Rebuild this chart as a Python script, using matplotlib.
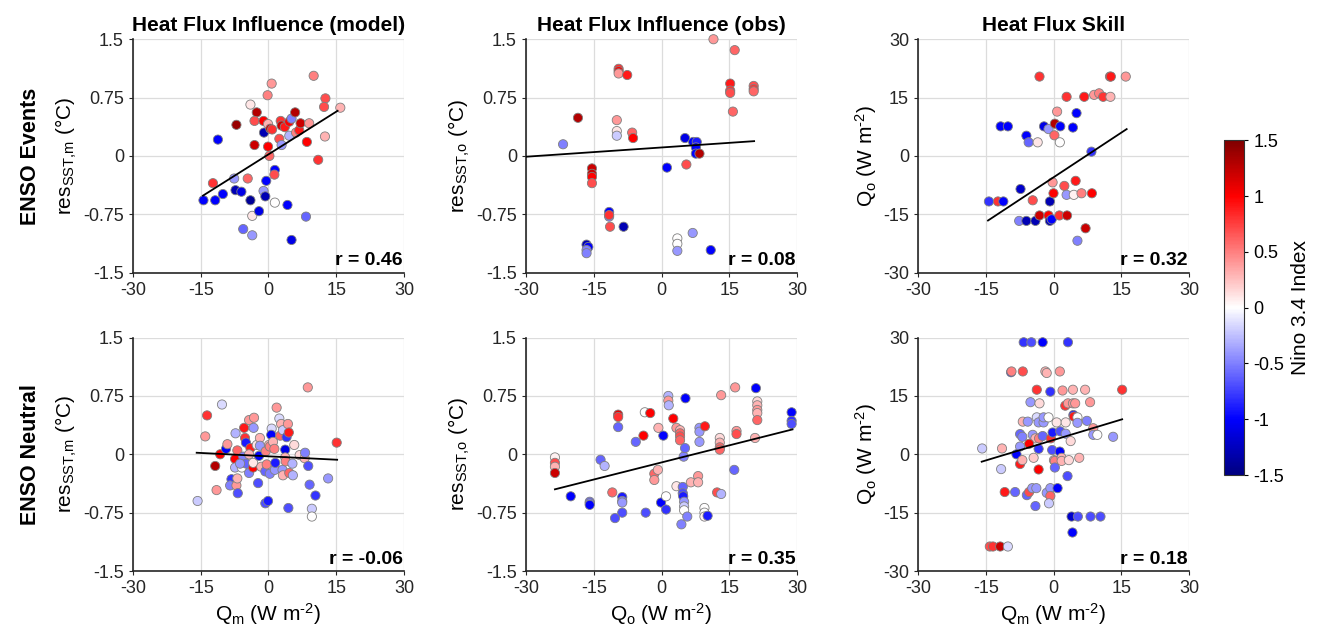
import numpy as np
import matplotlib
matplotlib.use('Agg')
import matplotlib.pyplot as plt
from matplotlib.colors import LinearSegmentedColormap, Normalize
from matplotlib.cm import ScalarMappable

# ENSO events, model: Q_m vs res_SST,m
p1_x = [-14.4, -11.8, -10.1, -12.3, -11.2, -7.1, -7.6, -7.3, -6.0, -5.6,
        -3.6, -3.6, -4.0, -4.6, -4.0, -2.6, -3.1, -3.1, -2.1, -1.1,
        -0.7, -0.5, -1.1, -1.0, -0.2, 0.7, -0.1, 0.4, 0.8, -0.1,
        0.2, 1.4, 1.3, 1.4, 2.4, 2.9, 2.7, 2.9, 3.6, 4.6,
        5.1, 4.6, 4.2, 5.1, 5.9, 6.1, 6.8, 7.1, 9.0, 8.5,
        8.3, 11.0, 10.0, 12.6, 12.3, 12.5, 15.9]
p1_y = [-0.57, -0.57, -0.49, -0.35, 0.21, 0.40, -0.29, -0.44, -0.46, -0.94,
        -1.02, -0.77, -0.57, -0.29, 0.66, 0.56, 0.45, 0.14, -0.71, -0.45,
        -0.52, -0.32, 0.45, 0.30, 0.78, 0.93, 0.41, 0.35, 0.34, 0.12,
        0.00, -0.18, -0.24, -0.60, 0.22, 0.14, 0.45, 0.39, 0.37, 0.44,
        0.48, 0.26, -0.63, -1.08, 0.56, 0.30, 0.33, 0.42, 0.42, 0.18,
        -0.78, -0.05, 1.03, 0.74, 0.63, 0.25, 0.62]
p1_c = [-1.0, -1.0, -1.0, 0.8, -1.0, 1.4, -0.4, -1.3, -1.1, -0.6,
        -0.4, 0.1, -1.4, 0.6, 0.1, 1.3, 0.7, 1.2, -1.1, -0.4,
        -1.3, -1.0, 1.0, -1.3, 0.5, 0.4, 0.3, 1.2, 0.8, 1.0,
        0.6, -1.0, 0.7, 0.0, 0.7, -0.4, 0.8, 1.2, 0.9, 1.0,
        -0.5, -0.3, -1.0, -1.1, 1.3, 0.5, 0.9, 1.2, 0.4, 1.0,
        -0.6, 0.8, 0.5, 0.7, 0.7, 0.3, 0.3]

# ENSO events, obs: Q_o vs res_SST,o
p2_x = [-21.8, -18.5, -15.4, -15.4, -15.4, -15.4, -16.6, -16.2, -16.6, -16.6,
        -11.6, -11.6, -11.6, -11.4, -8.4, -9.5, -9.5, -9.5, -7.6, -9.9,
        -9.9, -9.9, -6.5, -6.3, 1.2, 5.2, 5.5, 3.5, 3.5, 3.5,
        6.9, 10.9, 7.0, 7.8, 7.6, 7.6, 8.4, 11.5, 16.2, 15.2,
        15.2, 15.2, 15.8, 20.4, 20.4, 20.4]
p2_y = [0.15, 0.49, -0.16, -0.23, -0.27, -0.35, -1.14, -1.17, -1.21, -1.25,
        -0.72, -0.78, -0.76, -0.91, -0.91, 1.12, 1.09, 1.06, 1.04, 0.46,
        0.32, 0.26, 0.30, 0.23, -0.15, 0.23, -0.11, -1.06, -1.13, -1.22,
        -0.99, -1.21, 0.18, 0.18, 0.11, 0.03, 0.03, 1.50, 1.36, 0.93,
        0.84, 0.81, 0.57, 0.90, 0.86, 0.83]
p2_c = [-0.5, 1.3, 1.2, 1.2, 1.0, 0.7, -1.3, -1.0, -0.5, -0.5,
        -1.0, -0.5, 0.8, 0.7, -1.3, 0.8, 1.0, 0.4, 0.9, 0.4,
        0.1, -0.2, 0.6, 1.0, -1.0, -1.1, 0.7, 0.0, 0.0, -0.4,
        -0.4, -1.0, -1.0, -0.9, -1.0, -1.0, 1.3, 0.4, 0.6, 0.9,
        0.8, 0.7, 0.6, 0.7, 0.8, 0.6]

# ENSO events, skill: Q_m vs Q_o
p3_x = [-3.1, 12.5, 12.7, 16.0, 2.9, 6.8, 9.0, 10.1, 11.0, 12.6,
        0.8, 5.1, -11.7, -10.1, -2.1, -1.1, 0.3, 1.5, 4.3, 0.2,
        -6.0, -5.5, -3.5, 1.4, 8.4, -7.3, -14.3, -12.3, -11.1, -4.6,
        -0.8, -0.2, 0.0, 2.4, 2.9, 4.5, 4.9, 6.2, 8.5, -7.6,
        -6.0, -4.0, -3.1, -1.1, -0.8, -0.4, 1.3, 3.0, 7.1, 5.3]
p3_y = [20.4, 20.4, 20.4, 20.4, 15.2, 15.2, 15.7, 16.1, 15.2, 15.2,
        11.4, 11.0, 7.6, 7.6, 7.6, 6.9, 8.3, 7.6, 7.3, 5.3,
        5.2, 3.5, 3.5, 3.5, 1.1, -8.5, -11.7, -11.7, -11.7, -11.4,
        -11.7, -6.8, -9.6, -7.7, -10.0, -10.0, -6.4, -9.6, -9.6, -16.7,
        -16.7, -16.7, -15.3, -15.3, -16.7, -16.3, -15.3, -15.3, -18.6, -21.8]
p3_c = [0.8, 0.8, 0.9, 0.4, 0.8, 0.9, 0.4, 0.5, 0.8, 0.3,
        0.4, -1.0, -1.0, -1.0, -1.1, -0.4, 1.3, -1.0, -1.0, 0.6,
        -1.0, -0.6, 0.1, 0.0, -0.8, -1.2, -0.8, 0.8, -1.0, 0.7,
        -1.3, 0.4, 1.0, 0.7, -0.4, 0.05, 0.9, 0.5, 1.0, -0.5,
        -1.3, -1.3, 1.2, 1.0, -1.3, -1.0, 0.8, 1.2, 1.2, -0.5]

# ENSO neutral, model
p4_x = [-15.7, -13.6, -14.0, -10.3, -11.8, -10.7, -11.5, -9.4, -9.1, -8.2,
        -8.5, -7.1, -6.8, -7.4, -7.4, -7.3, -6.9, -6.9, -5.9, -5.4,
        -5.2, -5.0, -5.6, -4.3, -3.3, -3.2, -4.0, -4.3, -4.9, -4.3,
        -3.4, -3.4, -2.6, -2.3, -1.9, -1.9, -2.1, -1.6, -0.7, -0.7,
        -0.1, -0.6, -0.4, 0.3, 0.1, 0.7, 0.3, 0.6, 1.4, 1.5,
        1.0, 1.3, 1.8, 2.4, 2.6, 2.8, 3.2, 3.1, 3.2, 3.7,
        4.0, 4.3, 4.5, 3.7, 3.8, 4.4, 4.6, 5.3, 5.4, 5.7,
        6.9, 8.0, 8.1, 8.8, 8.7, 9.1, 10.4, 9.6, 9.6, 13.2,
        15.1, -6.3]
p4_y = [-0.60, 0.50, 0.23, 0.64, -0.15, 0.00, -0.46, 0.07, 0.13, -0.32,
        -0.40, -0.40, -0.50, -0.06, -0.17, 0.27, 0.05, -0.31, -0.17, 0.34,
        0.21, 0.15, -0.03, 0.44, 0.34, 0.47, 0.08, 0.00, -0.12, -0.24,
        -0.17, -0.11, 0.12, -0.37, 0.21, 0.11, -0.02, -0.16, -0.22, -0.63,
        -0.60, 0.04, -0.13, -0.25, 0.12, 0.33, 0.10, 0.25, -0.20, -0.11,
        0.16, 0.07, 0.60, 0.46, 0.24, 0.39, 0.31, -0.20, -0.27, 0.06,
        0.22, 0.39, 0.28, -0.04, -0.09, -0.69, -0.24, -0.12, -0.27, 0.12,
        -0.01, -0.05, 0.02, -0.15, 0.86, -0.39, -0.53, -0.70, -0.80, -0.31,
        0.15, -0.12]
p4_c = [-0.2, 0.8, 0.4, -0.15, 1.3, 1.0, 0.4, -1.0, 0.4, -0.8,
        -0.5, 0.4, -0.7, 1.0, -0.3, -0.3, 0.6, 0.3, 0.0, 0.9,
        0.8, -0.9, -0.5, 0.4, -0.4, 0.4, 0.9, 0.3, -0.6, -0.5,
        1.0, 0.1, 0.1, -0.7, 0.3, -0.4, -1.0, 0.3, -0.6, -0.7,
        -0.9, 0.5, 0.5, -0.5, 0.3, -0.15, 0.5, -1.0, -0.4, -0.9,
        0.3, 0.5, 0.4, -0.15, 0.6, 0.3, -0.2, -0.4, 0.3, -1.1,
        -0.8, 0.4, 0.9, 0.3, 0.5, -0.7, 0.6, -0.3, -0.3, 0.15,
        0.15, 0.3, -0.5, -0.7, 0.4, -0.6, -0.8, -0.2, 0.0, -0.4,
        0.8, -0.4]

# ENSO neutral, obs
p5_x = [-23.6, -23.6, -23.6, -23.6, -20.1, -15.9, -15.9, -15.9, -13.5, -12.6,
        -10.9, -10.3, -9.6, -9.6, -9.6, -8.7, -8.7, -8.7, -8.7, -5.7,
        -4.0, -3.7, -2.5, -3.5, -0.7, -1.6, -1.6, -0.8, -0.1, 0.4,
        1.0, 1.0, 1.5, 1.5, 1.6, 2.6, 3.3, 3.3, 4.1, 4.1,
        4.1, 4.1, 4.7, 4.7, 4.8, 5.0, 5.0, 5.0, 4.4, 5.7,
        4.9, 5.2, 5.3, 6.5, 8.1, 8.1, 8.4, 8.4, 8.4, 9.6,
        9.5, 9.5, 9.5, 10.2, 12.9, 12.9, 12.9, 12.9, 12.3, 13.2,
        13.2, 16.1, 16.3, 16.6, 16.6, 20.9, 21.2, 21.2, 21.2, 21.2,
        21.2, 20.7, 28.8, 28.8, 28.8]
p5_y = [-0.04, -0.11, -0.16, -0.24, -0.54, -0.61, -0.63, -0.65, -0.07, -0.15,
        -0.49, -0.82, 0.51, 0.48, 0.35, -0.55, -0.60, -0.62, -0.75, 0.16,
        0.24, 0.54, 0.53, -0.75, 0.34, -0.25, -0.33, -0.20, -0.62, 0.24,
        -0.71, -0.54, 0.75, 0.69, 0.63, 0.46, 0.34, -0.41, 0.31, 0.27,
        0.23, 0.18, -0.42, -0.50, -0.54, -0.61, -0.67, -0.72, -0.90, -0.80,
        -0.03, 0.08, 0.72, -0.36, -0.28, -0.36, 0.34, 0.29, 0.16, 0.36,
        -0.69, -0.75, -0.80, -0.79, 0.21, 0.15, 0.09, 0.06, -0.49, -0.51,
        0.76, -0.20, 0.86, 0.30, 0.26, 0.85, 0.68, 0.63, 0.57, 0.53,
        0.44, 0.21, 0.54, 0.43, 0.39]
p5_c = [0.05, 0.7, 0.3, 1.2, -1.0, -0.6, -0.5, -1.0, -0.6, -0.3,
        0.6, -0.7, 1.1, 0.8, -0.6, -0.9, -0.5, -0.4, -0.7, -0.6,
        1.0, 0.0, 1.0, -0.7, 0.3, 0.6, 0.4, 0.3, -1.0, -1.0,
        -0.8, 0.0, -0.3, 0.4, -0.3, 1.0, 0.4, 0.1, 0.3, 0.6,
        0.7, 0.6, -0.6, -0.7, -0.9, -0.4, -0.2, 0.0, -0.5, -0.5,
        -0.5, -0.6, -1.0, 0.3, 0.4, 0.3, -0.4, -0.4, -0.4, 0.9,
        0.0, 0.0, 0.05, -0.9, 0.15, 0.3, 0.6, 0.6, 0.7, -0.3,
        0.4, -0.6, 0.4, 0.4, 0.7, -1.0, 0.15, 0.3, 0.4, 0.3,
        0.6, 0.3, -1.0, -0.8, -0.7]

# ENSO neutral, skill
p6_x = [-6.6, -4.9, -2.4, 3.2, -9.4, -9.3, -6.8, -1.8, -1.5, 1.4,
        -3.7, -0.7, 2.0, 4.3, 7.0, 15.2, -5.1, -3.1, 2.6, 3.2,
        4.3, 4.8, 8.1, -6.8, -5.7, -3.7, -3.3, -2.2, -2.2, -1.1,
        0.7, 2.7, 4.4, 4.5, 5.3, 5.3, 7.4, 8.8, 8.8, 9.7,
        13.2, -7.4, -6.9, -4.6, -4.0, -3.2, -2.4, -0.6, -0.2, 1.5,
        2.7, 3.8, -5.4, -7.4, -3.3, -0.3, 1.4, -8.2, -15.8, -11.4,
        -11.6, -7.4, -6.9, -4.4, -3.3, 0.1, 0.3, 1.8, 1.8, 3.4,
        5.7, 0.3, 3.1, -10.8, -8.5, -5.9, -5.4, -4.7, -3.8, -1.5,
        -0.7, 0.9, -0.7, -4.0, -1.0, 4.0, 5.4, 8.2, 10.4, 4.2,
        -14.1, -13.4, -11.8, -10.1]
p6_y = [28.8, 28.8, 28.8, 28.8, 21.1, 21.3, 21.3, 21.3, 20.9, 21.3,
        16.6, 16.1, 16.4, 16.6, 16.6, 16.6, 13.4, 13.1, 12.5, 13.1,
        13.1, 13.1, 13.4, 8.4, 8.4, 9.5, 8.2, 8.2, 9.5, 9.5,
        8.2, 8.2, 10.1, 9.7, 9.5, 8.1, 8.6, 6.7, 5.0, 5.0,
        4.5, 5.2, 4.5, 5.0, 4.1, 4.1, 4.7, 4.1, 5.6, 5.9,
        5.3, 3.4, 2.7, 2.0, 1.4, 1.1, 0.7, 0.0, 1.5, 1.5,
        -3.8, -2.5, -1.5, -0.9, -3.9, -1.5, -1.7, -0.9, -1.7, -1.5,
        -0.9, -3.4, -5.6, -9.7, -9.7, -10.5, -9.7, -8.7, -8.7, -9.9,
        -8.7, -8.7, -10.7, -13.3, -12.6, -16.0, -16.0, -16.0, -16.0, -20.1,
        -23.7, -23.7, -23.7, -23.7]
p6_c = [-0.8, -0.7, -1.0, -0.8, -1.0, 0.5, 0.7, 0.3, 0.3, 0.4,
        0.8, -0.8, 0.4, 0.3, 0.3, 0.8, -0.4, 0.15, 0.8, 0.4,
        0.4, 0.4, 0.4, 0.3, -0.4, -0.15, -0.4, -0.4, -0.4, 0.0,
        0.1, 0.1, -0.9, 0.9, 0.0, -0.4, -0.5, 0.4, -0.4, 0.0,
        -0.4, -0.6, -0.5, -0.4, 0.3, 0.5, -0.6, 0.8, -0.9, -0.7,
        -0.4, 0.15, 1.0, -0.4, -0.8, -0.7, -1.0, -1.0, -0.2, 0.3,
        -0.2, 0.9, 0.3, 0.2, 1.0, 0.3, 0.5, 0.3, 0.3, 0.15,
        0.3, -0.6, -0.7, 0.9, -0.6, -0.6, 0.7, -0.4, -0.4, -0.4,
        -0.4, -1.0, 0.6, -0.6, -0.2, -1.2, -0.7, -0.7, -0.7, -1.0,
        0.7, 0.8, 1.2, -0.15]

# regression line end points
fit_x = [[-14.5, 15.3], [-30.0, 20.5], [-14.5, 16.2],
         [-15.9, 15.2], [-23.6, 29.0], [-15.9, 15.2]]
fit_y = [[-0.51, 0.58], [-0.01, 0.19], [-16.6, 6.9],
         [0.02, -0.07], [-0.45, 0.32], [-1.9, 9.0]]
r_vals = ['0.46', '0.08', '0.32', '-0.06', '0.35', '0.18']

titles = ['Heat Flux Influence (model)', 'Heat Flux Influence (obs)', 'Heat Flux Skill']
row_names = ['ENSO Events', 'ENSO Neutral']
ylabels = [r'res$_{\text{SST,m}}$ (°C)', r'res$_{\text{SST,o}}$ (°C)', r'Q$_{\rm o}$ (W m$^{\text{-2}}$)']
xlabels = [r'Q$_{\rm m}$ (W m$^{\text{-2}}$)', r'Q$_{\rm o}$ (W m$^{\text{-2}}$)', r'Q$_{\rm m}$ (W m$^{\text{-2}}$)']
q_ticks = [-30, -15, 0, 15, 30]
res_ticks = [-1.5, -0.75, 0, 0.75, 1.5]
res_labels = ['-1.5', '-0.75', '0', '0.75', '1.5']
cb_ticks = [-1.5, -1, -0.5, 0, 0.5, 1, 1.5]

plt.rcParams['font.family'] = 'Liberation Sans'
plt.rcParams['mathtext.fontset'] = 'custom'
plt.rcParams['mathtext.rm'] = 'Liberation Sans'
plt.rcParams['mathtext.it'] = 'Liberation Sans:italic'
plt.rcParams['mathtext.bf'] = 'Liberation Sans:bold'
plt.rcParams['axes.unicode_minus'] = False

cmap = LinearSegmentedColormap.from_list('nino', [
    (0.0, (0.0, 0.0, 0.5)), (1 / 6, (0.0, 0.0, 1.0)), (0.5, (1.0, 1.0, 1.0)),
    (5 / 6, (1.0, 0.0, 0.0)), (1.0, (0.5, 0.0, 0.0))])
norm = Normalize(-1.5, 1.5)

xs = [p1_x, p2_x, p3_x, p4_x, p5_x, p6_x]
ys = [p1_y, p2_y, p3_y, p4_y, p5_y, p6_y]
cs = [p1_c, p2_c, p3_c, p4_c, p5_c, p6_c]

fig = plt.figure(figsize=(13.22, 6.4), dpi=100)
lefts = [0.1006, 0.3979, 0.6944]
bottoms = [0.574, 0.1078]
w, h = 0.205, 0.3647

for k in range(6):
    row, col = divmod(k, 3)
    ax = fig.add_axes([lefts[col], bottoms[row], w, h])
    ax.scatter(xs[k], ys[k], c=cs[k], cmap=cmap, norm=norm, s=44,
               edgecolors='#808080', linewidths=0.6, zorder=3, clip_on=False)
    ax.plot(fit_x[k], fit_y[k], color='black', lw=1.3, zorder=4)
    ax.set_xlim(-30, 30)
    ax.set_xticks(q_ticks)
    if col == 2:
        ax.set_ylim(-30, 30)
        ax.set_yticks(q_ticks)
    else:
        ax.set_ylim(-1.5, 1.5)
        ax.set_yticks(res_ticks)
        ax.set_yticklabels(res_labels)
    ax.grid(True, color='#dcdcdc', lw=0.9)
    ax.set_axisbelow(True)
    for s in ['top', 'right']:
        ax.spines[s].set_visible(False)
    for s in ['left', 'bottom']:
        ax.spines[s].set_color('#262626')
        ax.spines[s].set_linewidth(1.2)
    ax.tick_params(direction='out', length=3, labelsize=13, colors='#262626')
    ax.set_ylabel(ylabels[col], fontsize=15, labelpad=3)
    if row == 0:
        ax.set_title(titles[col], fontsize=15, fontweight='bold', pad=6)
    else:
        ax.set_xlabel(xlabels[col], fontsize=15, labelpad=3)
    ax.text(0.995, 0.015, 'r = ' + r_vals[k], transform=ax.transAxes,
            ha='right', va='bottom', fontsize=14, fontweight='bold', zorder=5)

fig.text(0.023, 0.756, row_names[0], rotation=90, ha='center', va='center',
         fontsize=15.5, fontweight='bold')
fig.text(0.023, 0.29, row_names[1], rotation=90, ha='center', va='center',
         fontsize=15.5, fontweight='bold')

cax = fig.add_axes([0.926, 0.2578, 0.0151, 0.523])
sm = ScalarMappable(norm=norm, cmap=cmap)
cb = fig.colorbar(sm, cax=cax, ticks=cb_ticks)
cb.ax.set_yticklabels(['-1.5', '-1', '-0.5', '0', '0.5', '1', '1.5'])
cb.ax.tick_params(labelsize=13, length=3, direction='out')
cb.outline.set_edgecolor('#333333')
cb.set_label('Nino 3.4 Index', fontsize=15, labelpad=5)

fig.savefig('out.png', dpi=100)
